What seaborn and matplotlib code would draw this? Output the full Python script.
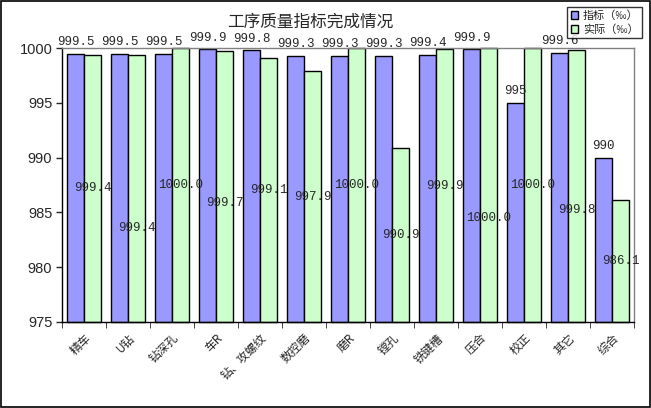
import numpy as np
import pandas as pd
import matplotlib
matplotlib.use("Agg")
import matplotlib.pyplot as plt
import seaborn as sns

categories = ["精车", "U钻", "钻深孔", "车R", "钻、攻螺纹", "数控磨", "磨R",
              "镗孔", "铣键槽", "压合", "校正", "其它", "综合"]
target = [999.5, 999.5, 999.5, 999.9, 999.8, 999.3, 999.3, 999.3, 999.4,
          999.9, 995.0, 999.6, 990.0]
actual = [999.4, 999.4, 1000.0, 999.7, 999.1, 997.9, 1000.0, 990.9, 999.9,
          1000.0, 1000.0, 999.8, 986.1]
series = ["指标（‰）", "实际（‰）"]

# label nudges (data units) for a few of the "actual" labels
label_shift = [0, -3.6, 0, -1.5, 0, 0, 0, 0, 0, -3.0, 0, -2.2, 0]

ymin = 975
df = pd.DataFrame({
    "cat": categories * 2,
    "series": [series[0]] * len(categories) + [series[1]] * len(categories),
    "value": target + actual,
})
df["height"] = df["value"] - ymin

sns.set_style("white")
plt.rcParams["font.family"] = ["Noto Sans CJK SC", "DejaVu Sans"]

fig = plt.figure(figsize=(6.51, 4.08), dpi=100)
ax = fig.add_axes([0.0952, 0.2108, 0.879, 0.6712])
palette = {series[0]: "#9999FF", series[1]: "#CCFFCC"}

sns.barplot(data=df, x="cat", y="height", hue="series", order=categories,
            hue_order=series, palette=palette, width=0.77, gap=0,
            edgecolor="black", linewidth=1, saturation=1, ax=ax, legend=True)

# shift bars so they start at the axis floor
for p in ax.patches:
    p.set_y(p.get_y() + ymin)
    p.set_clip_on(False)

ax.set_ylim(ymin, 1000)
ax.set_xlim(-0.5, len(categories) - 0.5)

ax.set_yticks(np.arange(975, 1001, 5))
ax.set_yticklabels([str(v) for v in range(975, 1001, 5)],
                   fontsize=10.5, family="Liberation Sans")
ax.tick_params(axis="y", direction="out", length=4, width=1, left=True, pad=3)
ax.set_xticks(range(len(categories)))
ax.set_xticklabels(categories, rotation=45, ha="right", rotation_mode="anchor",
                   fontsize=8.5)
ax.tick_params(axis="x", length=0, pad=7)
ax.set_xticks(np.arange(-0.5, len(categories), 1), minor=True)
ax.tick_params(axis="x", which="minor", direction="out", length=4, bottom=True)
ax.set_xlabel("")
ax.set_ylabel("")

for side in ["top", "right"]:
    ax.spines[side].set_color("#808080")
for side in ["left", "bottom"]:
    ax.spines[side].set_color("black")
for s in ax.spines.values():
    s.set_linewidth(1)

off = 0.77 / 4
for i, (t, a) in enumerate(zip(target, actual)):
    ax.annotate(f"{t:g}", (i - off, t), xytext=(0, 4), textcoords="offset points",
                ha="center", va="bottom", fontsize=9, family="Liberation Mono",
                annotation_clip=False)
    ax.text(i + off, (ymin + a) / 2 + label_shift[i], f"{a:.1f}",
            ha="center", va="center", fontsize=9, family="Liberation Mono")

fig.text(0.476, 0.945, "工序质量指标完成情况", ha="center", va="center", fontsize=12)

handles, labels = ax.get_legend_handles_labels()
ax.legend(handles, labels, loc="upper right", bbox_to_anchor=(0.986, 0.983),
          bbox_transform=fig.transFigure, frameon=True, fancybox=False,
          edgecolor="black", fontsize=8, handlelength=0.7, handleheight=0.7,
          handletextpad=0.4, borderpad=0.3, labelspacing=0.3, borderaxespad=0)

border = plt.Rectangle((0.001, 0.002), 0.997, 0.995, transform=fig.transFigure,
                       fill=False, edgecolor="black", linewidth=1.2)
fig.patches.append(border)

fig.savefig("out.png", dpi=100)
